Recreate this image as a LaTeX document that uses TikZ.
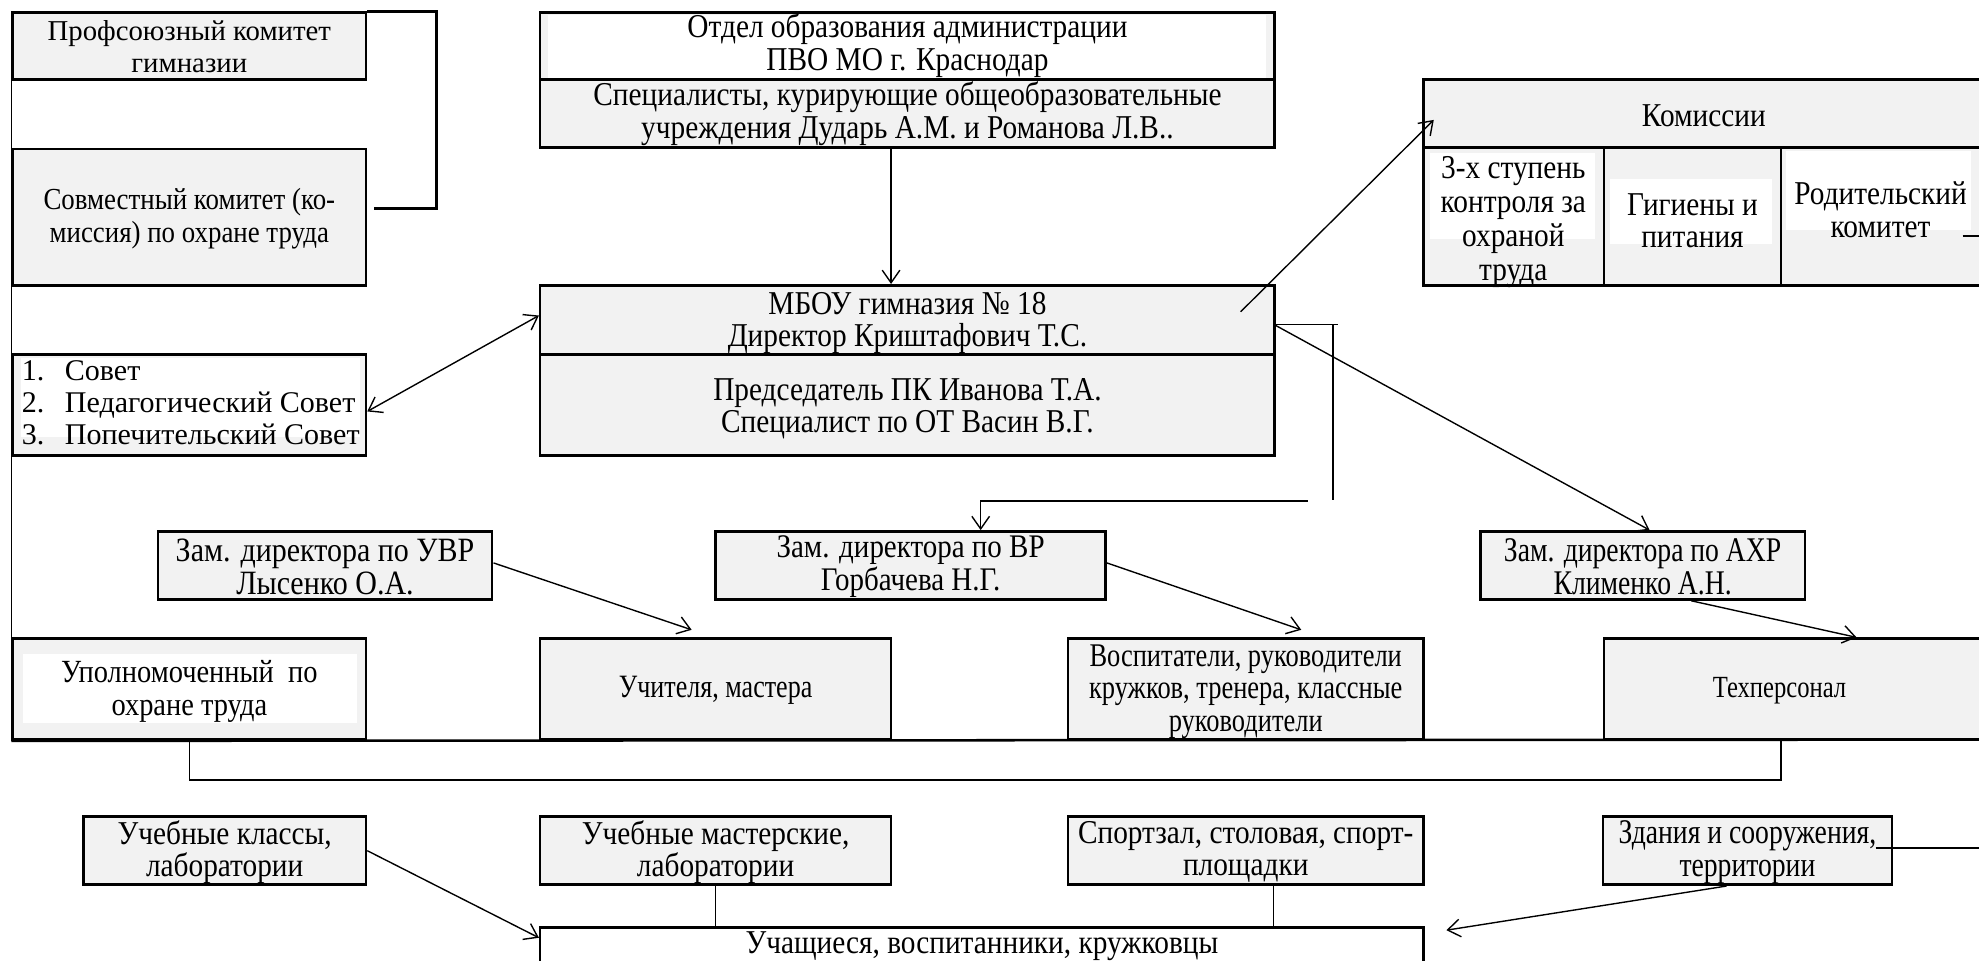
\documentclass[tikz,border=0pt]{standalone}
\usepackage{fontspec}
\setmainfont{Liberation Serif}
\newfontfamily\cndA{Liberation Serif}[FakeStretch=0.88]
\newfontfamily\cndB{Liberation Serif}[FakeStretch=0.8]
\usetikzlibrary{arrows.meta}
\definecolor{boxgray}{HTML}{F2F2F2}
\begin{document}
\begin{tikzpicture}[x=0.5pt,y=-0.5pt,
  box/.style={draw, line width=1pt, fill=boxgray, inner sep=0pt, align=center},
  conn/.style={line width=0.55pt},
  thk/.style={line width=1pt},
  arr/.style={conn, -{Straight Barb[length=5pt,width=7pt]}},
  dbl/.style={conn, {Straight Barb[length=5pt,width=7pt]}-{Straight Barb[length=5pt,width=7pt]}},
  nt/.style={font=\fontsize{11.4}{13}\selectfont, align=center, inner sep=0pt},
  ct/.style={font=\cndA\fontsize{13.2}{12.9}\selectfont, align=center, inner sep=0pt},
]
\useasboundingbox (0,0) rectangle (1568,761);
\fill[white] (0,0) rectangle (1568,761);

% ---------- left column ----------
\node[box, minimum width=140pt, minimum height=26.5pt] (prof) at (150,36.5) {};
\node[nt] (proft) at (150,37) {Профсоюзный комитет\\гимназии};
\node[box, minimum width=140pt, minimum height=54pt] (sovm) at (150,172) {};
\node[ct, font=\cndA\fontsize{12.1}{13}\selectfont] (sovmt) at (150,173) {Совместный комитет (ко-\\миссия) по охране труда};
\node[box, minimum width=140pt, minimum height=40pt] (sovet) at (150,321) {};
\fill[white] (17,284) rectangle (285,346);
\node[nt, align=left, anchor=north west, font=\fontsize{11.9}{12.8}\selectfont] (sovett) at (17,285)
  {\makebox[17pt][l]{1.}Совет\\\makebox[17pt][l]{2.}Педагогический Совет\\\makebox[17pt][l]{3.}Попечительский Совет};

% ---------- top centre ----------
\node[box, minimum width=291pt, minimum height=53.5pt] (otdel) at (719,63.5) {};
\fill[white] (434,12) rectangle (1003,62);
\draw[thk] (428,63) -- (1010,63);
\node[ct] (otdel1) at (719,36) {Отдел образования администрации\\ПВО МО г. Краснодар};
\node[ct] (otdel2) at (719,90) {Специалисты, курирующие общеобразовательные\\учреждения Дударь А.М. и Романова Л.В..};

\node[box, minimum width=291pt, minimum height=67.5pt] (mbou) at (719,293.5) {};
\draw[thk] (428,281) -- (1010,281);
\node[ct] (mbou1) at (719,256) {МБОУ гимназия № 18\\Директор Криштафович Т.С.};
\node[ct] (mbou2) at (719,324) {Председатель ПК Иванова Т.А.\\Специалист по ОТ Васин В.Г.};

% ---------- commissions ----------
\node[box, minimum width=223.5pt, minimum height=81.5pt] (kom) at (1351.5,144.5) {};
\draw[thk] (1128,117) -- (1575,117);
\draw[thk] (1271,117) -- (1271,226);
\draw[thk] (1411,117) -- (1411,226);
\fill[white] (1133,121) rectangle (1264,189);
\fill[white] (1276,142) rectangle (1404,193);
\fill[white] (1415,120) rectangle (1562,182);
\node[ct] (komt) at (1350,92) {Комиссии};
\node[ct, font=\cndA\fontsize{13.2}{13.5}\selectfont] (kom1) at (1199,176) {3-х ступень\\контроля за\\охраной\\труда};
\node[ct] (kom2) at (1341,175) {Гигиены и\\питания};
\node[ct] (kom3) at (1490,166) {Родительский\\комитет};
\coordinate (komr1) at (1555,187);
\coordinate (komr2) at (1575,187);
\draw[conn] (komr1) -- (komr2);

% ---------- deputies ----------
\node[box, minimum width=132.5pt, minimum height=27pt] (uvr) at (257.5,448) {};
\node[ct, font=\cndA\fontsize{13.5}{12.9}\selectfont] (uvrt) at (257.5,449) {Зам. директора по УВР\\Лысенко О.А.};
\node[box, minimum width=154.5pt, minimum height=27pt] (vr) at (721.5,448) {};
\node[ct, font=\cndA\fontsize{13.05}{12.9}\selectfont] (vrt) at (721.5,449) {Зам. директора по ВР\\Горбачева Н.Г.};
\node[box, minimum width=128.5pt, minimum height=27pt] (axp) at (1301.5,448) {};
\node[ct, font=\cndB\fontsize{13.7}{12.9}\selectfont] (axpt) at (1301.5,449) {Зам. директора по АХР\\Клименко А.Н.};

% ---------- staff row ----------
\node[box, minimum width=140pt, minimum height=40pt] (upol) at (150,546) {};
\fill[white] (18,518) rectangle (283,573);
\node[ct, font=\cndA\fontsize{12.8}{13.2}\selectfont] (upolt) at (150,548) {Уполномоченный\ \ по\\охране труда};
\node[box, minimum width=139pt, minimum height=40pt] (uchit) at (567,546) {};
\node[ct, font=\cndB\fontsize{12.9}{13}\selectfont] (uchitt) at (567,547) {Учителя, мастера};
\node[box, minimum width=141pt, minimum height=40pt] (vosp) at (987,546) {};
\node[ct, font=\cndB\fontsize{13.1}{13}\selectfont] (vospt) at (987,548) {Воспитатели, руководители\\кружков, тренера, классные\\руководители};
\node[box, minimum width=151pt, minimum height=40pt] (tech) at (1422,546) {};
\node[ct, font=\cndB\fontsize{12.2}{13}\selectfont] (techt) at (1410,547) {Техперсонал};

% ---------- facilities row ----------
\node[box, minimum width=112pt, minimum height=27pt] (klass) at (178,674) {};
\node[ct] (klasst) at (178,675) {Учебные классы,\\лаборатории};
\node[box, minimum width=139pt, minimum height=27pt] (mast) at (567,674) {};
\node[ct] (mastt) at (567,675) {Учебные мастерские,\\лаборатории};
\node[box, minimum width=141pt, minimum height=27pt] (sport) at (987,674) {};
\node[ct] (sportt) at (987,675) {Спортзал, столовая, спорт-\\площадки};
\node[box, minimum width=114.5pt, minimum height=27pt] (zdan) at (1384.5,674) {};
\node[ct, font=\cndB\fontsize{13.7}{12.9}\selectfont] (zdant) at (1384.5,675) {Здания и сооружения,\\территории};
\node[box, fill=white, minimum width=350pt, minimum height=25pt] (uchas) at (778,760) {};
\node[ct] (uchast) at (778,750) {Учащиеся, воспитанники, кружковцы};

% ---------- frame lines ----------
\coordinate (rowend) at (1575,586);
\draw[conn] (prof.south west) -- (sovm.north west);
\draw[conn] (sovm.south west) -- (sovet.north west);
\draw[conn] (sovet.south west) -- (upol.north west);
\draw[thk] (upol.south west) -- (rowend);
\coordinate (bk1) at (346,165);
\coordinate (bk2) at (296,165);
\draw[thk] (prof.north east) -| (bk1) -- (bk2);
\draw[conn] (upol.south) -- ++(0,31) -| (tech.south -| 1411,0);

% ---------- connectors ----------
\draw[arr] ([xshift=-6.5pt]otdel.south) -- ([xshift=-6.5pt]mbou.north);
\draw[dbl] (sovet.east |- 0,326) -- (mbou.west |- 0,250);
\coordinate (kstart) at (983,247);
\coordinate (kend) at (1136,95);
\draw[arr] (kstart) -- (kend);
\coordinate (vrA) at (1060,257);
\coordinate (vrB) at (1056,257);
\coordinate (vrC) at (1056,396);
\coordinate (vrD) at (1036,397);
\coordinate (vrE) at (777,397);
\draw[conn] (mbou.east |- 0,257) -- (vrA);
\draw[conn] (vrB) -- (vrC);
\draw[arr] (vrD) -- (vrE) -- (vr.north -| vrE);
\draw[arr] (mbou.east |- 0,258) -- (axp.north -| 1307,0);
\coordinate (uvrend) at (548,499);
\draw[arr] (uvr.east |- 0,446) -- (uvrend);
\coordinate (vrend) at (1031,499);
\draw[arr] (vr.east |- 0,446) -- (vrend);
\draw[arr] (axp.south -| 1340,0) -- (tech.north -| 1471,0);
\draw[arr] (klass.east) -- (uchas.west |- 0,743);
\draw[conn] (mast.south) -- (uchas.north -| mast.south);
\draw[conn] (sport.south -| 1009,0) -- (uchas.north -| 1009,0);
\coordinate (zdend) at (1146,737);
\draw[arr] (zdan.south -| 1368,0) -- (zdend);
\coordinate (zr1) at (1486,672);
\coordinate (zr2) at (1575,672);
\draw[conn] (zr1) -- (zr2);
\end{tikzpicture}
\end{document}
